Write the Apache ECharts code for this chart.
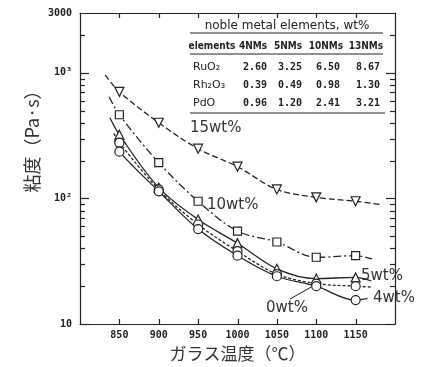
<!DOCTYPE html>
<html>
<head>
<meta charset="utf-8">
<script src="https://cdn.jsdelivr.net/npm/echarts@6/dist/echarts.min.js"></script>
<style>
  html, body { margin: 0; padding: 0; background: #fff; }
  #chart { width: 430px; height: 367px; }
</style>
</head>
<body>
<div id="chart"></div>
<script>
// glass temperature (°C) and viscosity (Pa·s)
const TEMPS = [850, 900, 950, 1000, 1050, 1100, 1150];
const VISC_15 = [707, 401, 249, 179, 118, 102, 95];
const VISC_10 = [464, 193, 95, 55, 45, 34, 35];
const VISC_5 = [322, 122, 68, 44, 27.5, 23, 23.5];
const VISC_0 = [278, 118, 62, 38, 25, 21, 20];
const VISC_4 = [236, 114, 57, 35, 24, 20, 15.5];

// where each fitted curve starts / ends beyond the measured points
const ENDS_15 = [[832, 964], [1184, 89]];
const ENDS_10 = [[837, 645], [1171, 33]];
const ENDS_5 = [[838, 440], [1170, 22]];
const ENDS_0 = [[843, 330], [1170, 19.7]];
const ENDS_4 = [[844, 290], [1165, 16]];

const MAJOR_TICKS = [10, 100, 1000];
const MINOR_TICKS = [20, 30, 40, 50, 60, 70, 80, 90, 200, 300, 400, 500, 600, 700, 800, 900, 2000];

// noble metal table
const NM_COLS = ['4NMs', '5NMs', '10NMs', '13NMs'];
const ROW_NAMES = ['RuO₂', 'Rh₂O₃', 'PdO'];
const RUO2 = ['2.60', '3.25', '6.50', '8.67'];
const RH2O3 = ['0.39', '0.49', '0.98', '1.30'];
const PDO = ['0.96', '1.20', '2.41', '3.21'];

const INK = '#222';

function curve(name, vals, ends, symbol, dash, rotate) {
  const pts = TEMPS.map((t, i) => [t, vals[i]]);
  return {
    name,
    type: 'line',
    smooth: 0.35,
    symbol,
    symbolSize: symbol === 'rect' ? 8 : 9,
    symbolRotate: rotate || 0,
    itemStyle: { color: '#fff', borderColor: INK, borderWidth: 1.2 },
    lineStyle: { color: INK, width: 1.3, type: dash },
    data: [{ value: ends[0], symbol: 'none' }, ...pts, { value: ends[1], symbol: 'none' }],
    z: 3
  };
}

const chart = echarts.init(document.getElementById('chart'));

const tickFont = { fontFamily: 'DejaVu Sans Mono', fontWeight: 'bold', fontSize: 10, color: INK };
const numX = [255, 290, 328, 368];
const rowY = [67, 85, 103];
const rowVals = [RUO2, RH2O3, PDO];
const labelFont = '15px DejaVu Sans';

const graphics = [
  { type: 'text', x: 287, y: 26, style: { text: 'noble metal elements, wt%', font: '12px DejaVu Sans', fill: INK, align: 'center', verticalAlign: 'middle' } },
  { type: 'line', shape: { x1: 190, y1: 33, x2: 383, y2: 33 }, style: { stroke: INK, lineWidth: 1 } },
  { type: 'text', x: 212, y: 46, style: { text: 'elements', font: 'bold 10px DejaVu Sans Condensed', fill: INK, align: 'center', verticalAlign: 'middle' } },
  { type: 'line', shape: { x1: 190, y1: 54, x2: 383, y2: 54 }, style: { stroke: INK, lineWidth: 1 } },
  { type: 'line', shape: { x1: 190, y1: 113, x2: 385, y2: 113 }, style: { stroke: INK, lineWidth: 1 } },
  // curve labels
  { type: 'text', x: 190, y: 128, style: { text: '15wt%', font: labelFont, fill: '#333', verticalAlign: 'middle' } },
  { type: 'text', x: 207, y: 205, style: { text: '10wt%', font: labelFont, fill: '#333', verticalAlign: 'middle' } },
  { type: 'text', x: 361, y: 276, style: { text: '5wt%', font: labelFont, fill: '#333', verticalAlign: 'middle' } },
  { type: 'text', x: 373, y: 298, style: { text: '4wt%', font: labelFont, fill: '#333', verticalAlign: 'middle' } },
  { type: 'text', x: 266, y: 308, style: { text: '0wt%', font: labelFont, fill: '#333', verticalAlign: 'middle' } },
  { type: 'line', shape: { x1: 290, y1: 299, x2: 313, y2: 286 }, style: { stroke: INK, lineWidth: 1 } },
  // y axis name
  { type: 'text', x: 32, y: 137, rotation: Math.PI / 2, style: { text: '粘度（Pa·s）', font: '18px "Noto Sans CJK JP"', fill: '#333', align: 'center', verticalAlign: 'middle' } }
];

NM_COLS.forEach((c, i) => {
  graphics.push({ type: 'text', x: numX[i] - 2, y: 46, style: { text: c, font: 'bold 10px DejaVu Sans Condensed', fill: INK, align: 'center', verticalAlign: 'middle' } });
});
ROW_NAMES.forEach((r, j) => {
  graphics.push({ type: 'text', x: 193, y: rowY[j], style: { text: r, font: '11px DejaVu Sans', fill: INK, verticalAlign: 'middle' } });
  rowVals[j].forEach((v, i) => {
    graphics.push({ type: 'text', x: numX[i], y: rowY[j], style: { text: v, font: 'bold 10px DejaVu Sans Mono', fill: INK, align: 'center', verticalAlign: 'middle' } });
  });
});

const frameAxis = { axisLine: { show: true, lineStyle: { color: INK, width: 1.2 } }, axisTick: { show: false }, splitLine: { show: false } };

chart.setOption({
  animation: false,
  backgroundColor: '#fff',
  grid: { left: 80, right: 35, top: 13, bottom: 43 },
  xAxis: [
    Object.assign({
      type: 'value', min: 800, max: 1200, interval: 50,
      name: 'ガラス温度（℃）', nameLocation: 'middle', nameGap: 17,
      nameTextStyle: { fontFamily: 'Noto Sans CJK JP', fontSize: 17, color: '#333' },
      axisLabel: Object.assign({ margin: 6, formatter: v => (v === 800 || v === 1200) ? '' : v }, tickFont)
    }, frameAxis),
    Object.assign({ type: 'value', position: 'top', min: 800, max: 1200, interval: 50, axisLabel: { show: false } }, frameAxis)
  ],
  yAxis: [
    Object.assign({
      type: 'log', logBase: 10, min: 10, max: 3000,
      axisLabel: Object.assign({
        margin: 8,
        formatter: v => {
          if (Math.abs(v - 3000) < 1) return '3000';
          const e = Math.round(Math.log10(v));
          return e === 1 ? '10' : (e === 2 ? '10²' : '10³');
        }
      }, tickFont)
    }, frameAxis),
    Object.assign({ type: 'log', logBase: 10, min: 10, max: 3000, position: 'right', axisLabel: { show: false } }, frameAxis)
  ],
  series: [
    curve('15wt%', VISC_15, ENDS_15, 'triangle', [6, 3], 180),
    curve('10wt%', VISC_10, ENDS_10, 'rect', [8, 3, 2, 3]),
    curve('5wt%', VISC_5, ENDS_5, 'triangle', 'solid'),
    curve('0wt%', VISC_0, ENDS_0, 'circle', [3, 2]),
    curve('4wt%', VISC_4, ENDS_4, 'circle', 'solid')
  ],
  graphic: graphics
});

// inward frame ticks, placed through the axes' own scales
const toPx = (x, y) => chart.convertToPixel({ xAxisIndex: 0, yAxisIndex: 0 }, [x, y]);
const frameLeft = toPx(800, 10)[0];
const frameRight = toPx(1200, 10)[0];
const frameBottom = toPx(800, 10)[1];
const frameTop = toPx(800, 3000)[1];
const tickLines = [];
const addTick = (x1, y1, x2, y2) => tickLines.push({
  type: 'line', z: 100, silent: true,
  shape: { x1, y1, x2, y2 },
  style: { stroke: INK, lineWidth: 1.2 }
});
MAJOR_TICKS.forEach(v => {
  const y = Math.round(toPx(800, v)[1]) + 0.5;
  addTick(frameLeft, y, frameLeft + 9, y);
  addTick(frameRight, y, frameRight - 9, y);
});
MINOR_TICKS.forEach(v => {
  const y = Math.round(toPx(800, v)[1]) + 0.5;
  addTick(frameLeft, y, frameLeft + 5, y);
  addTick(frameRight, y, frameRight - 5, y);
});
TEMPS.forEach(t => {
  const x = Math.round(toPx(t, 10)[0]) + 0.5;
  addTick(x, frameBottom, x, frameBottom - 5);
  addTick(x, frameTop, x, frameTop + 5);
});
chart.setOption({ graphic: graphics.concat(tickLines) });

window.addEventListener('resize', () => chart.resize());
</script>
</body>
</html>
